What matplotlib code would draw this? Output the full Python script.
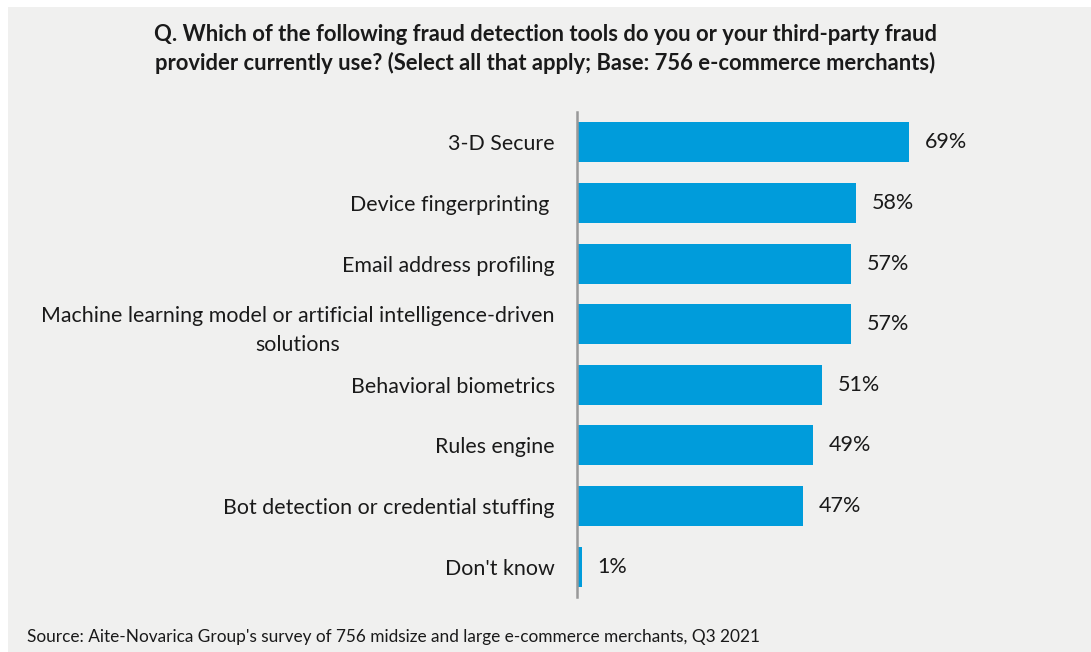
import matplotlib.pyplot as plt
from matplotlib.patches import Rectangle
from matplotlib.transforms import ScaledTranslation

plt.rcParams['font.family'] = ['Lato', 'DejaVu Sans']

tools = [
    "3-D Secure",
    "Device fingerprinting ",
    "Email address profiling",
    "Machine learning model or artificial intelligence-driven\nsolutions",
    "Behavioral biometrics",
    "Rules engine",
    "Bot detection or credential stuffing",
    "Don't know",
]
share = [69, 58, 57, 57, 51, 49, 47, 1]

title = ("Q. Which of the following fraud detection tools do you or your third-party fraud\n"
         "provider currently use? (Select all that apply; Base: 756 e-commerce merchants)")
source = "Source: Aite-Novarica Group's survey of 756 midsize and large e-commerce merchants, Q3 2021"

W, H = 1091, 652
fig = plt.figure(figsize=(W / 100, H / 100), dpi=100, facecolor='white')

# light grey panel behind everything
fig.patches.append(Rectangle((8 / W, 0), 1 - 8 / W, 1 - 7 / H, transform=fig.transFigure,
                             facecolor='#f0f0ef', edgecolor='none', zorder=-10))

ax = fig.add_axes([577 / W, 1 - 597 / H, 481 / W, 485 / H])
ax.set_facecolor('none')

y = range(len(tools))
ax.barh(y, share, height=0.66, color='#009cdb')
ax.set_xlim(0, 100)
ax.set_ylim(len(tools) - 0.5, -0.5)

for i, v in enumerate(share):
    ax.text(v + 3.3, i, f"{v}%", va='center', ha='left', fontsize=15.5, color='#1a1a1a')

ax.set_yticks(list(y))
labels = ax.set_yticklabels(tools, fontsize=15.4, color='#1a1a1a', linespacing=1.55)
for lab, name in zip(labels, tools):
    lab.set_multialignment('center')
    # nudge labels up a touch so they sit level with the bars
    up = 6 if "\n" in name else 2
    lab.set_transform(lab.get_transform() + ScaledTranslation(0, up / 100, fig.dpi_scale_trans))
ax.tick_params(axis='y', length=0, pad=16)
ax.set_xticks([])
for s in ['top', 'right', 'bottom']:
    ax.spines[s].set_visible(False)
ax.spines['left'].set_color('#999999')
ax.spines['left'].set_linewidth(1.8)

fig.text(545 / W, 1 - 49 / H, title, ha='center', va='center', fontsize=15.8,
         fontweight='bold', color='#1a1a1a', linespacing=1.35)
fig.text(27 / W, 1 - 637 / H, source, ha='left', va='center', fontsize=12.4, color='#1a1a1a')

fig.savefig('out.png', dpi=100, facecolor=fig.get_facecolor())
